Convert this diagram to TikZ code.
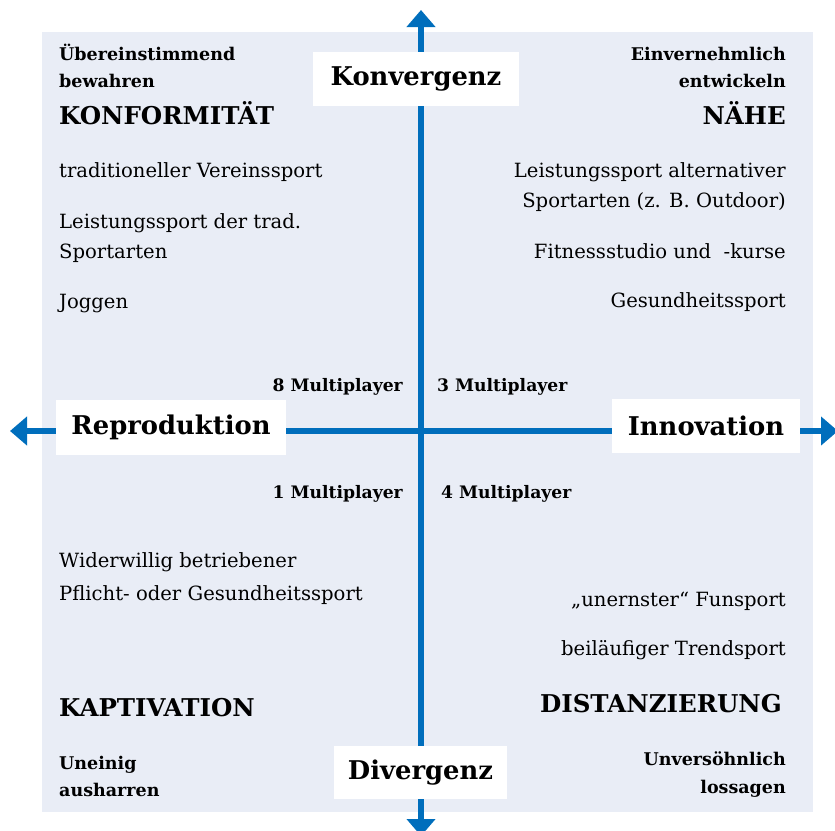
\documentclass[tikz,border=0pt]{standalone}
\usepackage{fontspec}
\setmainfont{DejaVu Serif}
\usepackage{tikz}
\usetikzlibrary{arrows.meta}
\definecolor{axisblue}{RGB}{0,110,188}
\definecolor{fieldbg}{RGB}{233,237,246}
\tikzset{
	axis/.style={line width=6pt,draw=axisblue,{Triangle[width=28pt,length=17pt]}-{Triangle[width=28pt,length=17pt]}},
	polebox/.style={fill=white,inner sep=0pt,font=\bfseries\fontsize{25.8}{30}\selectfont},
	item/.style={inner sep=0pt,font=\fontsize{19.6}{23}\selectfont},
	tagline/.style={inner sep=0pt,font=\bfseries\fontsize{17.5}{21}\selectfont},
	quadname/.style={inner sep=0pt,font=\bfseries\fontsize{24.5}{30}\selectfont},
	players/.style={inner sep=0pt,font=\bfseries\fontsize{17.2}{21}\selectfont}
}
\begin{document}
\begin{tikzpicture}[line cap=butt,line join=miter,x=1pt,y=-1pt]
	\useasboundingbox (0,0) rectangle (835,830);
	\clip (0,0) rectangle (835,830);
	\fill[fieldbg] (42,32) rectangle (813,812);
	% axes
	\coordinate (north) at (421,10);
	\coordinate (south) at (421,836);
	\coordinate (west) at (10,431);
	\coordinate (east) at (838,431);
	\draw[axis] (south) -- (north);
	\draw[axis] (west) -- (east);
	% poles
	\node[polebox,minimum width=206pt,minimum height=54pt] (konv) at (416,79) {Konvergenz};
	\node[polebox,minimum width=230pt,minimum height=55pt] (repro) at (171,427.5) {Reproduktion};
	\node[polebox,minimum width=188pt,minimum height=54pt] (inno) at (706,426) {Innovation};
	\node[polebox,minimum width=173pt,minimum height=53pt] (diverg) at (420.5,772.5) {Divergenz};
	% top left
	\node[tagline,anchor=base west] (tl1) at (59,60) {Übereinstimmend};
	\node[tagline,anchor=base west] (tl2) at (59,87) {bewahren};
	\node[quadname,anchor=base west] (konf) at (59,124) {KONFORMITÄT};
	\node[item,anchor=base west] (a1) at (59,177) {traditioneller Vereinssport};
	\node[item,anchor=base west] (a2) at (59,228) {Leistungssport der trad.};
	\node[item,anchor=base west] (a3) at (59,258) {Sportarten};
	\node[item,anchor=base west] (a4) at (59,308) {Joggen};
	% top right
	\node[tagline,anchor=base east] (tr1) at (786,60) {Einvernehmlich};
	\node[tagline,anchor=base east] (tr2) at (786,87) {entwickeln};
	\node[quadname,anchor=base east] (naehe) at (786,124) {NÄHE};
	\node[item,anchor=base east] (b1) at (786,177) {Leistungssport alternativer};
	\node[item,anchor=base east] (b2) at (786,207) {Sportarten (z. B. Outdoor)};
	\node[item,anchor=base east] (b3) at (786,258) {Fitnessstudio und\ \ -kurse};
	\node[item,anchor=base east] (b4) at (786,307) {Gesundheitssport};
	% multiplayer
	\node[players,anchor=base east] (m8) at (403,391) {8 Multiplayer};
	\node[players,anchor=base west] (m3) at (437,391) {3 Multiplayer};
	\node[players,anchor=base east] (m1) at (403,498) {1 Multiplayer};
	\node[players,anchor=base west] (m4) at (441,498) {4 Multiplayer};
	% bottom left
	\node[item,anchor=base west] (c1) at (59,567) {Widerwillig betriebener};
	\node[item,anchor=base west] (c2) at (59,600) {Pflicht- oder Gesundheitssport};
	\node[quadname,anchor=base west] (kapt) at (59,716) {KAPTIVATION};
	\node[tagline,anchor=base west] (bl1) at (59,769) {Uneinig};
	\node[tagline,anchor=base west] (bl2) at (59,796) {ausharren};
	% bottom right
	\node[item,anchor=base east] (d1) at (786,606) {„unernster“ Funsport};
	\node[item,anchor=base east] (d2) at (786,655) {beiläufiger Trendsport};
	\node[quadname,anchor=base east] (dist) at (782,712) {DISTANZIERUNG};
	\node[tagline,anchor=base east] (br1) at (786,765) {Unversöhnlich};
	\node[tagline,anchor=base east] (br2) at (786,793) {lossagen};
\end{tikzpicture}
\end{document}
